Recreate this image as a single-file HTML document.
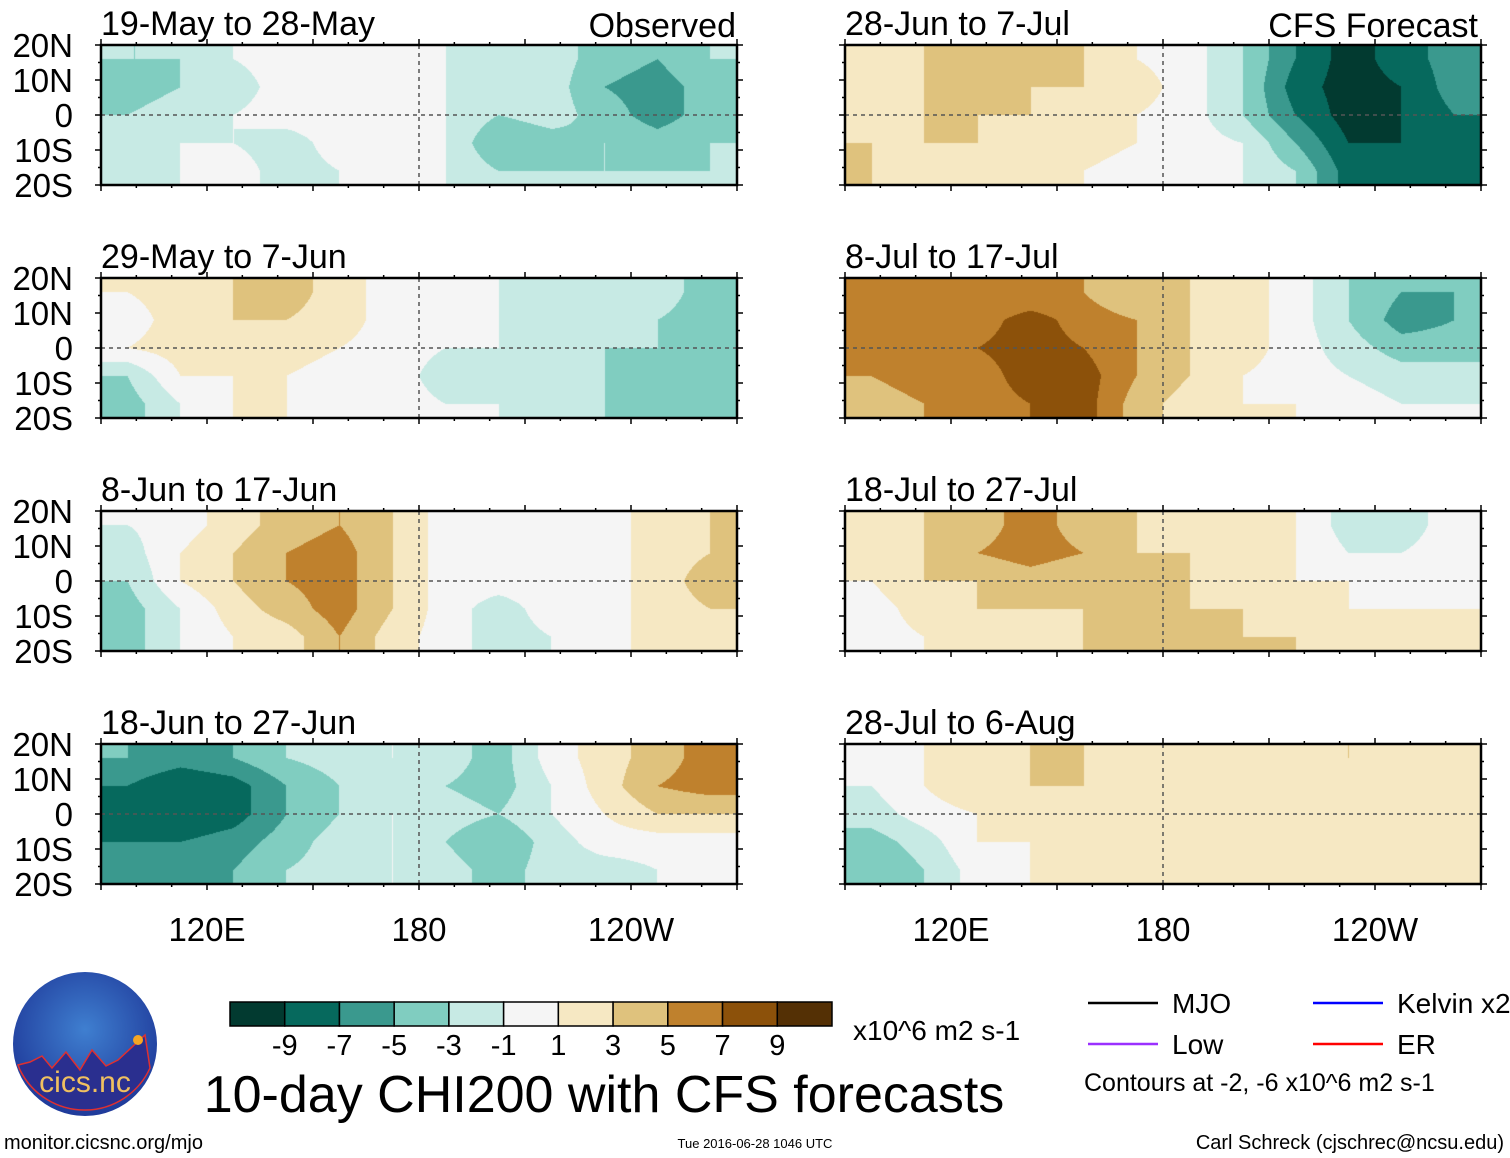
<!DOCTYPE html>
<html><head><meta charset="utf-8"><style>
html,body{margin:0;padding:0;background:#fff;}
#wrap{position:relative;width:1510px;height:1158px;overflow:hidden;}
canvas{position:absolute;}
svg{position:absolute;left:0;top:0;display:block;font-family:"Liberation Sans",sans-serif;}
</style></head><body>
<div id="wrap">
<svg id="chart" width="1510" height="1158" viewBox="0 0 1510 1158" xmlns="http://www.w3.org/2000/svg">
<defs>
<radialGradient id="logoGrad" cx="50%" cy="40%" r="60%"><stop offset="0" stop-color="#3f7fd0"/><stop offset="1" stop-color="#1f3a9a"/></radialGradient>
</defs>
<g id="panels"></g>
<g id="legendG"></g>
</svg>
</div>
<script>
const titles = ["19-May to 28-May","28-Jun to 7-Jul","29-May to 7-Jun","8-Jul to 17-Jul","8-Jun to 17-Jun","18-Jul to 27-Jul","18-Jun to 27-Jun","28-Jul to 6-Aug"];
const lonCenters = [97.5,112.5,127.5,142.5,157.5,172.5,187.5,202.5,217.5,232.5,247.5,262.5];
const latCenters = [16,8,0,-8,-16];
const levels = [-9,-7,-5,-3,-1,1,3,5,7,9];
const levelColors = ["#023a30","#06695d","#3a998e","#80cdc0","#c7eae4","#f5f5f5","#f6e8c3","#dfc27d","#bf812d","#8c510a","#543005"];
const xTickLabels = ["120E","180","120W"];
const xTickLons = [120,180,240];
const yTickLabels = ["20N","10N","0","10S","20S"];
const yTickLats = [20,10,0,-10,-20];
const p1 = [[-3,-3,-1,0,0,0,-1,-2,-2,-4,-5,-3],[-4,-3,-2,0,0,1,-1,-2,-2,-5,-6,-4],[-3,-2,-1,0,0,0,-1,-3,-2,-4,-6,-4],[-2,-1,-1,-2,0,0,-1,-5,-4,-3,-4,-3],[-2,-1,0,-2,-1,0,-1,-3,-3,-3,-3,-3]];
const p2 = [[2,3,3,3,3,1,0,-3,-7,-10,-8,-6],[2,3,4,3,3,2,0,-3,-8,-10,-9,-6],[2,3,3,3,2,1,0,-3,-7,-10,-9,-7],[3,3,3,2,2,1,0,-1,-5,-9,-9,-8],[3,2,2,1,1,0,0,-1,-3,-8,-9,-8]];
const p3 = [[1,2,3,4,2,0,0,-1,-3,-2,-2,-4],[0,2,3,3,2,0,-1,-1,-3,-3,-3,-4],[1,2,2,2,1,0,-1,-1,-3,-3,-3,-4],[-3,1,1,1,0,0,-2,-3,-3,-3,-4,-4],[-4,-1,1,1,0,0,-1,-1,-3,-3,-5,-5]];
const p4 = [[6,6,5,5,5,3,3,2,0,-3,-5,-5],[7,6,6,8,6,5,3,2,0,-3,-6,-5],[6,6,7,8,7,5,3,2,0,-2,-4,-4],[5,6,6,8,8,5,3,1,0,-1,-2,-2],[4,5,6,7,8,4,2,1,1,0,-1,-1]];
const p5 = [[-1,0,2,4,5,3,0,0,0,0,2,3],[-2,1,3,5,6,3,0,-1,0,0,2,3],[-3,1,3,5,6,3,0,0,0,0,2,4],[-4,-1,2,4,6,3,0,-2,0,0,2,3],[-4,-1,1,2,5,2,0,-2,-1,0,2,2]];
const p6 = [[2,3,4,6,4,3,2,1,1,-2,-2,0],[3,3,5,6,5,3,3,2,1,-1,-1,0],[1,3,3,4,3,3,3,2,1,1,0,0],[0,2,3,3,3,3,3,3,2,1,1,1],[0,1,2,2,3,3,3,3,3,1,1,1]];
const p7 = [[-5,-6,-5,-3,-2,-1,-2,-4,0,2,4,6],[-7,-9,-8,-5,-3,-2,-3,-4,-1,2,5,6],[-8,-9,-8,-5,-3,-1,-2,-3,-1,1,3,3],[-7,-7,-6,-4,-2,-1,-3,-5,-2,0,0,0],[-6,-6,-5,-3,-2,-1,-2,-4,-2,-2,-1,0]];
const p8 = [[0,1,2,3,3,2,1,1,1,3,1,1],[-1,1,3,3,3,2,1,1,1,2,1,1],[-2,0,1,2,2,1,1,1,1,1,1,1],[-4,-2,1,1,1,1,1,1,1,1,1,1],[-5,-3,0,1,1,1,1,1,1,1,1,1]];
const grids = [p1,p2,p3,p4,p5,p6,p7,p8];

const NS="http://www.w3.org/2000/svg";
function mk(t,a,p){const e=document.createElementNS(NS,t);for(const k in a)e.setAttribute(k,a[k]);if(p)p.appendChild(e);return e;}
function levelIndex(v){let i=0;while(i<levels.length&&v>=levels[i])i++;return i;}
function hex(c){return [parseInt(c.slice(1,3),16),parseInt(c.slice(3,5),16),parseInt(c.slice(5,7),16)];}
const rgb=levelColors.map(hex);
const W=636,H=140,LON0=90,LON1=270,LAT0=20,LAT1=-20;
const panelX=[101,845], panelY=[45,278,511,744];
const root=document.getElementById('panels');
const wrap=document.getElementById('wrap');
function sample(g,lon,lat){
  let fx=(lon-lonCenters[0])/(lonCenters[1]-lonCenters[0]);
  let fy=(latCenters[0]-lat)/(latCenters[0]-latCenters[1]);
  fx=Math.max(0,Math.min(lonCenters.length-1,fx));fy=Math.max(0,Math.min(latCenters.length-1,fy));
  const x0=Math.min(Math.floor(fx),lonCenters.length-2),y0=Math.min(Math.floor(fy),latCenters.length-2);
  const u=fx-x0,v=fy-y0;
  const a=g[y0][x0],b=g[y0][x0+1],c=g[y0+1][x0],d=g[y0+1][x0+1];
  return (a*(1-u)+b*u)*(1-v)+(c*(1-u)+d*u)*v;
}
grids.forEach((g,idx)=>{
  const px=panelX[idx%2], py=panelY[Math.floor(idx/2)];
  const xs=lon=>px+(lon-LON0)/(LON1-LON0)*W;
  const ys=lat=>py+(LAT0-lat)/(LAT0-LAT1)*H;
  const cv=document.createElement('canvas');
  cv.width=W;cv.height=H;cv.style.left=px+'px';cv.style.top=py+'px';
  
  
  wrap.insertBefore(cv,wrap.firstChild);
  const ctx=cv.getContext('2d');const img=ctx.createImageData(W,H);
  for(let j=0;j<H;j++){const lat=LAT0-(j+0.5)/H*(LAT0-LAT1);
    for(let i=0;i<W;i++){const lon=LON0+(i+0.5)/W*(LON1-LON0);
      const col=rgb[levelIndex(sample(g,lon,lat))];const k=(j*W+i)*4;
      img.data[k]=col[0];img.data[k+1]=col[1];img.data[k+2]=col[2];img.data[k+3]=255;}}
  ctx.putImageData(img,0,0);
  const pg=mk('g',{},root);
  
  
  mk('line',{x1:px,x2:px+W,y1:ys(0),y2:ys(0),stroke:'#555','stroke-width':1.5,'stroke-dasharray':'4,4'},pg);
  mk('line',{x1:xs(180),x2:xs(180),y1:py,y2:py+H,stroke:'#555','stroke-width':1.5,'stroke-dasharray':'4,4'},pg);
  mk('rect',{x:px,y:py,width:W,height:H,fill:'none',stroke:'#000','stroke-width':2.5},pg);
  for(let l=90;l<=270;l+=10){const len=(l%30===0)?6:3;mk('line',{x1:xs(l),x2:xs(l),y1:py,y2:py-len,stroke:'#000','stroke-width':1.5},pg);mk('line',{x1:xs(l),x2:xs(l),y1:py+H,y2:py+H+len,stroke:'#000','stroke-width':1.5},pg);}
  for(let la=-20;la<=20;la+=5){const len=(la%10===0)?6:3;mk('line',{x1:px,x2:px-len,y1:ys(la),y2:ys(la),stroke:'#000','stroke-width':1.5},pg);mk('line',{x1:px+W,x2:px+W+len,y1:ys(la),y2:ys(la),stroke:'#000','stroke-width':1.5},pg);}
  const t=mk('text',{x:px,y:py-10,'font-size':34},pg);t.textContent=titles[idx];
  
  if(idx%2===0){yTickLabels.forEach((s,i)=>{const tt=mk('text',{x:73,y:ys(yTickLats[i])+12,'font-size':33,'text-anchor':'end'},pg);tt.textContent=s;
    });}
  if(idx>=6){xTickLabels.forEach((s,i)=>{const tt=mk('text',{x:xs(xTickLons[i]),y:941,'font-size':33,'text-anchor':'middle'},pg);tt.textContent=s;
    });}
});
const lg=document.getElementById('legendG');
let t=mk('text',{x:736,y:37,'font-size':34,'text-anchor':'end'},lg);t.textContent='Observed';

t=mk('text',{x:1478,y:37,'font-size':34,'text-anchor':'end'},lg);t.textContent='CFS Forecast';

const cbx=230,cbw=602,cby=1002,cbh=24,bw=cbw/levelColors.length;
levelColors.forEach((c,i)=>{const r=mk('rect',{x:cbx+i*bw,y:cby,width:bw,height:cbh,fill:c,stroke:'#000','stroke-width':1.5},lg);
  });
const cbLabels=["-9","-7","-5","-3","-1","1","3","5","7","9"];
cbLabels.forEach((s,i)=>{const tt=mk('text',{x:cbx+(i+1)*bw,y:1055,'font-size':29,'text-anchor':'middle'},lg);tt.textContent=s;
  });
t=mk('text',{x:853,y:1040,'font-size':28},lg);t.textContent='x10^6 m2 s-1';

t=mk('text',{x:604,y:1112,'font-size':52,'text-anchor':'middle'},lg);t.textContent='10-day CHI200 with CFS forecasts';

const leg=[["MJO","#000",1088,1003],["Low","#9b30ff",1088,1044],["Kelvin x2","#0000ff",1313,1003],["ER","#ff0000",1313,1044]];
leg.forEach(a=>{mk('line',{x1:a[2],x2:a[2]+70,y1:a[3],y2:a[3],stroke:a[1],'stroke-width':2.5},lg);
  const tt=mk('text',{x:a[2]+84,y:a[3]+10,'font-size':28},lg);tt.textContent=a[0];
  });
t=mk('text',{x:1084,y:1091,'font-size':25},lg);t.textContent='Contours at -2, -6 x10^6 m2 s-1';

t=mk('text',{x:1504,y:1149,'font-size':20,'text-anchor':'end'},lg);t.textContent='Carl Schreck (cjschrec@ncsu.edu)';

t=mk('text',{x:4,y:1149,'font-size':20},lg);t.textContent='monitor.cicsnc.org/mjo';

t=mk('text',{x:755,y:1148,'font-size':13,'text-anchor':'middle'},lg);t.textContent='Tue 2016-06-28 1046 UTC';

const logo=mk('g',{},lg);

mk('circle',{cx:85,cy:1044,r:72,fill:'url(#logoGrad)'},logo);
mk('path',{d:'M18,1065 L30,1062 L42,1056 L52,1068 L66,1052 L80,1070 L92,1050 L106,1066 L118,1060 L145,1035 L150,1068 A72,72 0 0,1 20,1070 Z',fill:'#2a2f8f',stroke:'#e03030','stroke-width':1.5},logo);
mk('circle',{cx:138,cy:1040,r:5,fill:'#f5a623'},logo);
t=mk('text',{x:85,y:1092,'font-size':30,fill:'#f0c060','text-anchor':'middle'},logo);t.textContent='cics.nc';
</script>
</body></html>
